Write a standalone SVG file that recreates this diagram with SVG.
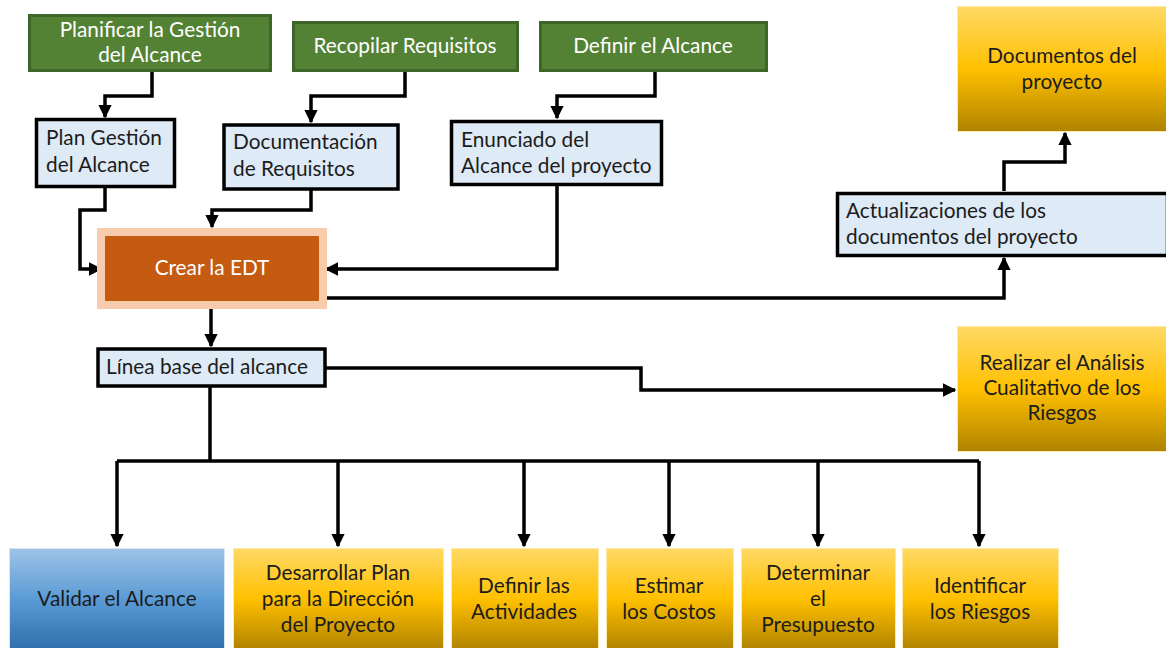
<svg xmlns="http://www.w3.org/2000/svg" width="1166" height="648" viewBox="0 0 1166 648">
  <style>
    text { font-family: Lato, "Open Sans", "Liberation Sans", sans-serif; font-size: 20.8px; }
    .proc { fill: #548235; stroke: #3d6628; stroke-width: 3; }
    .proc-t { fill: #ffffff; text-anchor: middle; }
    .doc { fill: #deeaf6; stroke: #000000; stroke-width: 3.5; }
    .doc-t { fill: #1c1c1c; }
    .gold { fill: url(#goldGrad); stroke: #ffe9a8; stroke-width: 1; }
    .blue { fill: url(#blueGrad); stroke: #d6e6f5; stroke-width: 1; }
    .out-t { fill: #1c1c1c; text-anchor: middle; }
    .wire { fill: none; stroke: #000000; stroke-width: 3.5; stroke-linejoin: miter; }
    .wire-a { fill: none; stroke: #000000; stroke-width: 3.5; marker-end: url(#head); }
  </style>
  <defs>
    <linearGradient id="goldGrad" x1="0" y1="0" x2="0" y2="1">
      <stop offset="0" stop-color="#ffd966"/>
      <stop offset="0.5" stop-color="#ffc000"/>
      <stop offset="1" stop-color="#b08300"/>
    </linearGradient>
    <linearGradient id="blueGrad" x1="0" y1="0" x2="0" y2="1">
      <stop offset="0" stop-color="#9dc3e6"/>
      <stop offset="0.5" stop-color="#5b9bd5"/>
      <stop offset="1" stop-color="#2e6fad"/>
    </linearGradient>
    <marker id="head" viewBox="0 0 10 10" refX="9" refY="5" markerWidth="3.8" markerHeight="3.8" markerUnits="strokeWidth" orient="auto">
      <path d="M0,0 L10,5 L0,10 Z" fill="#000000"/>
    </marker>
  </defs>

  <!-- connectors -->
  <g id="connectors">
    <path class="wire-a" d="M152,72 V96 H105 V117"/>
    <path class="wire-a" d="M405,72 V96 H311 V122"/>
    <path class="wire-a" d="M655,72 V96 H557 V118"/>
    <path class="wire-a" d="M105,188 V210 H80 V269 H101"/>
    <path class="wire-a" d="M311,190 V210 H212 V227"/>
    <path class="wire-a" d="M557,186 V269 H326"/>
    <path class="wire-a" d="M325,298 H1004 V258"/>
    <path class="wire-a" d="M1004,191 V162 H1065 V133"/>
    <path class="wire-a" d="M211,309 V346"/>
    <path class="wire-a" d="M326,368 H641 V390 H955"/>
    <path class="wire" d="M210,387 V461"/>
    <path class="wire" d="M117,461 H979"/>
    <path class="wire-a" d="M117,461 V546"/>
    <path class="wire-a" d="M338,461 V546"/>
    <path class="wire-a" d="M524,461 V546"/>
    <path class="wire-a" d="M669,461 V546"/>
    <path class="wire-a" d="M818,461 V546"/>
    <path class="wire-a" d="M979,461 V546"/>
  </g>

  <!-- process steps (green) -->
  <g id="planificar">
    <rect class="proc" x="29.5" y="15.5" width="241" height="55"/>
    <text class="proc-t" x="150" y="37">Planificar la Gestión</text>
    <text class="proc-t" x="150" y="62">del Alcance</text>
  </g>
  <g id="recopilar">
    <rect class="proc" x="293.5" y="22.5" width="224" height="48"/>
    <text class="proc-t" x="405" y="53">Recopilar Requisitos</text>
  </g>
  <g id="definir-alcance">
    <rect class="proc" x="540.5" y="22.5" width="226" height="48"/>
    <text class="proc-t" x="653" y="53">Definir el Alcance</text>
  </g>

  <!-- documents (light blue) -->
  <g id="plan-gestion">
    <rect class="doc" x="36.5" y="119.5" width="138" height="67"/>
    <text class="doc-t" x="46" y="145">Plan Gestión</text>
    <text class="doc-t" x="46" y="172">del Alcance</text>
  </g>
  <g id="documentacion">
    <rect class="doc" x="224" y="125" width="174" height="64"/>
    <text class="doc-t" x="233" y="149">Documentación</text>
    <text class="doc-t" x="233" y="176">de Requisitos</text>
  </g>
  <g id="enunciado">
    <rect class="doc" x="451.5" y="121.5" width="210" height="63"/>
    <text class="doc-t" x="461" y="147">Enunciado del</text>
    <text class="doc-t" x="461" y="173">Alcance del proyecto</text>
  </g>
  <g id="actualizaciones">
    <rect class="doc" x="837.5" y="193.5" width="330" height="62"/>
    <text class="doc-t" x="846" y="218">Actualizaciones de los</text>
    <text class="doc-t" x="846" y="244">documentos del proyecto</text>
  </g>
  <g id="linea-base">
    <rect class="doc" x="98" y="349" width="227" height="37"/>
    <text class="doc-t" x="106" y="374">Línea base del alcance</text>
  </g>

  <!-- central process -->
  <g id="crear-edt">
    <rect x="97" y="228" width="230" height="81" fill="#f8cbad"/>
    <rect x="105" y="236" width="214" height="65" fill="#c55a11"/>
    <text class="proc-t" x="212" y="275">Crear la EDT</text>
  </g>

  <!-- outputs (gold / blue) -->
  <g id="documentos">
    <rect class="gold" x="957.5" y="6.5" width="210" height="125"/>
    <text class="out-t" x="1062" y="63">Documentos del</text>
    <text class="out-t" x="1062" y="89">proyecto</text>
  </g>
  <g id="analisis-cualitativo">
    <rect class="gold" x="957.5" y="326.5" width="210" height="125"/>
    <text class="out-t" x="1062" y="370">Realizar el Análisis</text>
    <text class="out-t" x="1062" y="395">Cualitativo de los</text>
    <text class="out-t" x="1062" y="420">Riesgos</text>
  </g>
  <g id="validar">
    <rect class="blue" x="9.5" y="548.5" width="215" height="101"/>
    <text class="out-t" x="117" y="606">Validar el Alcance</text>
  </g>
  <g id="desarrollar-plan">
    <rect class="gold" x="233.5" y="548.5" width="210" height="101"/>
    <text class="out-t" x="338" y="580">Desarrollar Plan</text>
    <text class="out-t" x="338" y="606">para la Dirección</text>
    <text class="out-t" x="338" y="632">del Proyecto</text>
  </g>
  <g id="definir-actividades">
    <rect class="gold" x="451.5" y="548.5" width="147" height="101"/>
    <text class="out-t" x="524" y="593">Definir las</text>
    <text class="out-t" x="524" y="619">Actividades</text>
  </g>
  <g id="estimar-costos">
    <rect class="gold" x="606.5" y="548.5" width="127" height="101"/>
    <text class="out-t" x="669" y="593">Estimar</text>
    <text class="out-t" x="669" y="619">los Costos</text>
  </g>
  <g id="determinar-presupuesto">
    <rect class="gold" x="741.5" y="548.5" width="154" height="101"/>
    <text class="out-t" x="818" y="580">Determinar</text>
    <text class="out-t" x="818" y="606">el</text>
    <text class="out-t" x="818" y="632">Presupuesto</text>
  </g>
  <g id="identificar-riesgos">
    <rect class="gold" x="902.5" y="548.5" width="156" height="101"/>
    <text class="out-t" x="980" y="593">Identificar</text>
    <text class="out-t" x="980" y="619">los Riesgos</text>
  </g>
</svg>
